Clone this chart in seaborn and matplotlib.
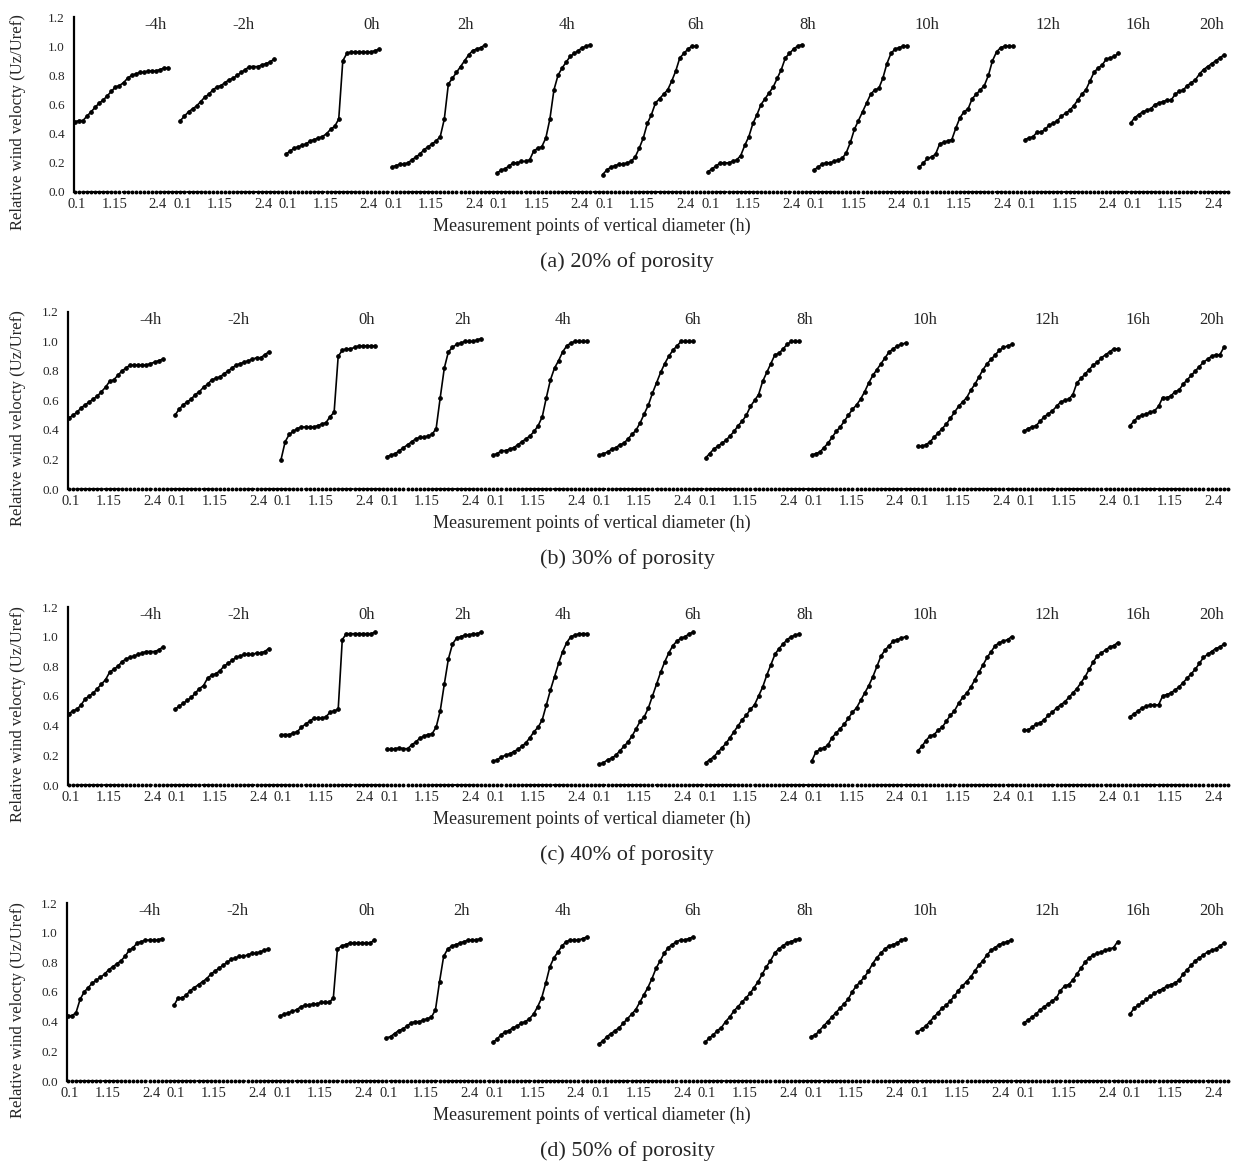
import numpy as np
import pandas as pd
import matplotlib
matplotlib.use('Agg')
import matplotlib.pyplot as plt
import seaborn as sns

# time after the front passes, one profile per time step
times = ['-4h', '-2h', '0h', '2h', '4h', '6h', '8h', '10h', '12h', '16h', '20h']
# measurement points along the vertical diameter (h)
heights = [0.1, 0.2, 0.3, 0.4, 0.5, 0.6, 0.7, 0.8, 0.9, 1.0, 1.1, 1.2,
           1.3, 1.4, 1.5, 1.6, 1.7, 1.8, 1.9, 2.0, 2.1, 2.2, 2.3, 2.4]
tick_text = ['0.1', '1.15', '2.4']
captions = ['(a) 20% of porosity', '(b) 30% of porosity',
            '(c) 40% of porosity', '(d) 50% of porosity']

# relative wind velocity Uz/Uref, one row per time step
p20 = [
    [0.48, 0.49, 0.49, 0.52, 0.55, 0.58, 0.61, 0.63, 0.66, 0.69, 0.72, 0.73, 0.75, 0.78, 0.80, 0.81, 0.82, 0.82, 0.83, 0.83, 0.83, 0.84, 0.85, 0.85],
    [0.49, 0.52, 0.55, 0.57, 0.59, 0.62, 0.65, 0.67, 0.70, 0.72, 0.73, 0.75, 0.77, 0.78, 0.80, 0.82, 0.84, 0.86, 0.86, 0.86, 0.87, 0.88, 0.89, 0.91],
    [0.26, 0.28, 0.30, 0.31, 0.32, 0.33, 0.35, 0.36, 0.37, 0.38, 0.40, 0.43, 0.45, 0.50, 0.90, 0.95, 0.96, 0.96, 0.96, 0.96, 0.96, 0.96, 0.97, 0.98],
    [0.17, 0.18, 0.19, 0.19, 0.20, 0.22, 0.24, 0.26, 0.29, 0.31, 0.33, 0.35, 0.38, 0.50, 0.74, 0.78, 0.82, 0.86, 0.90, 0.94, 0.97, 0.98, 0.99, 1.01],
    [0.13, 0.15, 0.16, 0.18, 0.20, 0.20, 0.21, 0.21, 0.22, 0.28, 0.30, 0.31, 0.37, 0.50, 0.70, 0.80, 0.85, 0.89, 0.93, 0.95, 0.97, 0.99, 1.00, 1.01],
    [0.12, 0.15, 0.17, 0.18, 0.19, 0.19, 0.20, 0.21, 0.24, 0.30, 0.37, 0.47, 0.53, 0.61, 0.64, 0.67, 0.70, 0.76, 0.83, 0.92, 0.95, 0.98, 1.00, 1.00],
    [0.14, 0.16, 0.18, 0.20, 0.20, 0.20, 0.21, 0.22, 0.25, 0.32, 0.38, 0.47, 0.53, 0.60, 0.64, 0.68, 0.72, 0.78, 0.84, 0.92, 0.95, 0.98, 1.00, 1.01],
    [0.15, 0.17, 0.19, 0.20, 0.20, 0.21, 0.22, 0.23, 0.27, 0.34, 0.43, 0.49, 0.55, 0.61, 0.67, 0.70, 0.71, 0.78, 0.88, 0.95, 0.98, 0.99, 1.00, 1.00],
    [0.17, 0.20, 0.23, 0.24, 0.26, 0.33, 0.34, 0.35, 0.36, 0.44, 0.51, 0.55, 0.57, 0.64, 0.67, 0.70, 0.73, 0.80, 0.90, 0.96, 0.99, 1.00, 1.00, 1.00],
    [0.36, 0.37, 0.38, 0.41, 0.41, 0.43, 0.46, 0.47, 0.49, 0.52, 0.54, 0.56, 0.59, 0.63, 0.67, 0.70, 0.76, 0.82, 0.85, 0.87, 0.91, 0.92, 0.93, 0.95],
    [0.47, 0.51, 0.53, 0.55, 0.56, 0.57, 0.60, 0.61, 0.62, 0.63, 0.63, 0.67, 0.69, 0.70, 0.73, 0.75, 0.77, 0.81, 0.84, 0.86, 0.88, 0.90, 0.92, 0.94],
]
p30 = [
    [0.48, 0.50, 0.52, 0.55, 0.57, 0.59, 0.61, 0.63, 0.66, 0.69, 0.73, 0.74, 0.77, 0.80, 0.82, 0.84, 0.84, 0.84, 0.84, 0.84, 0.85, 0.86, 0.87, 0.88],
    [0.50, 0.54, 0.57, 0.59, 0.61, 0.64, 0.66, 0.69, 0.71, 0.74, 0.75, 0.76, 0.78, 0.80, 0.82, 0.84, 0.85, 0.86, 0.87, 0.88, 0.89, 0.89, 0.91, 0.93],
    [0.20, 0.32, 0.37, 0.39, 0.41, 0.42, 0.42, 0.42, 0.42, 0.43, 0.44, 0.45, 0.49, 0.52, 0.90, 0.94, 0.95, 0.95, 0.96, 0.97, 0.97, 0.97, 0.97, 0.97],
    [0.22, 0.23, 0.24, 0.26, 0.28, 0.30, 0.32, 0.34, 0.35, 0.35, 0.36, 0.37, 0.41, 0.62, 0.82, 0.93, 0.96, 0.98, 0.99, 1.00, 1.00, 1.00, 1.01, 1.02],
    [0.23, 0.24, 0.26, 0.26, 0.27, 0.28, 0.30, 0.32, 0.34, 0.36, 0.39, 0.43, 0.49, 0.62, 0.74, 0.82, 0.87, 0.93, 0.97, 0.99, 1.00, 1.00, 1.00, 1.00],
    [0.23, 0.24, 0.25, 0.27, 0.28, 0.30, 0.31, 0.34, 0.37, 0.40, 0.45, 0.51, 0.57, 0.65, 0.72, 0.79, 0.85, 0.90, 0.94, 0.97, 1.00, 1.00, 1.00, 1.00],
    [0.21, 0.24, 0.27, 0.29, 0.31, 0.33, 0.36, 0.39, 0.43, 0.46, 0.50, 0.56, 0.60, 0.64, 0.73, 0.79, 0.85, 0.91, 0.92, 0.95, 0.98, 1.00, 1.00, 1.00],
    [0.23, 0.24, 0.25, 0.28, 0.31, 0.35, 0.39, 0.42, 0.46, 0.50, 0.54, 0.57, 0.61, 0.66, 0.72, 0.77, 0.81, 0.85, 0.89, 0.93, 0.95, 0.97, 0.98, 0.99],
    [0.29, 0.29, 0.30, 0.32, 0.35, 0.38, 0.41, 0.44, 0.48, 0.52, 0.56, 0.59, 0.62, 0.67, 0.71, 0.76, 0.81, 0.85, 0.88, 0.91, 0.94, 0.96, 0.97, 0.98],
    [0.39, 0.41, 0.42, 0.43, 0.46, 0.49, 0.51, 0.53, 0.56, 0.59, 0.60, 0.61, 0.64, 0.72, 0.75, 0.78, 0.81, 0.84, 0.86, 0.89, 0.91, 0.93, 0.95, 0.95],
    [0.43, 0.46, 0.49, 0.50, 0.51, 0.52, 0.53, 0.56, 0.62, 0.62, 0.63, 0.66, 0.67, 0.71, 0.74, 0.77, 0.80, 0.83, 0.86, 0.88, 0.90, 0.91, 0.91, 0.96],
]
p40 = [
    [0.48, 0.50, 0.51, 0.54, 0.58, 0.60, 0.62, 0.65, 0.68, 0.71, 0.76, 0.78, 0.80, 0.83, 0.85, 0.86, 0.87, 0.88, 0.89, 0.90, 0.90, 0.90, 0.91, 0.93],
    [0.51, 0.53, 0.55, 0.57, 0.59, 0.62, 0.65, 0.67, 0.72, 0.74, 0.75, 0.77, 0.80, 0.82, 0.84, 0.86, 0.87, 0.88, 0.88, 0.88, 0.89, 0.89, 0.90, 0.92],
    [0.34, 0.34, 0.34, 0.35, 0.36, 0.39, 0.41, 0.43, 0.45, 0.45, 0.45, 0.46, 0.49, 0.50, 0.51, 0.98, 1.02, 1.02, 1.02, 1.02, 1.02, 1.02, 1.02, 1.03],
    [0.24, 0.24, 0.245, 0.25, 0.245, 0.245, 0.27, 0.29, 0.315, 0.33, 0.34, 0.345, 0.39, 0.50, 0.68, 0.85, 0.95, 0.99, 1.00, 1.01, 1.01, 1.02, 1.02, 1.03],
    [0.16, 0.17, 0.19, 0.20, 0.21, 0.225, 0.24, 0.26, 0.285, 0.32, 0.36, 0.39, 0.44, 0.54, 0.64, 0.73, 0.82, 0.90, 0.96, 1.00, 1.01, 1.02, 1.02, 1.02],
    [0.14, 0.15, 0.17, 0.18, 0.20, 0.23, 0.26, 0.29, 0.33, 0.38, 0.43, 0.46, 0.52, 0.60, 0.68, 0.76, 0.83, 0.89, 0.94, 0.97, 0.99, 1.00, 1.02, 1.03],
    [0.15, 0.17, 0.19, 0.22, 0.25, 0.28, 0.32, 0.36, 0.40, 0.44, 0.47, 0.51, 0.54, 0.60, 0.66, 0.74, 0.81, 0.88, 0.92, 0.95, 0.98, 1.00, 1.01, 1.02],
    [0.16, 0.22, 0.24, 0.25, 0.27, 0.32, 0.35, 0.38, 0.41, 0.45, 0.49, 0.52, 0.57, 0.62, 0.67, 0.73, 0.80, 0.87, 0.91, 0.94, 0.97, 0.98, 0.99, 1.00],
    [0.23, 0.26, 0.30, 0.33, 0.34, 0.37, 0.39, 0.43, 0.47, 0.50, 0.55, 0.59, 0.62, 0.66, 0.71, 0.76, 0.81, 0.86, 0.90, 0.94, 0.96, 0.97, 0.98, 1.00],
    [0.37, 0.37, 0.39, 0.41, 0.42, 0.44, 0.47, 0.49, 0.52, 0.54, 0.56, 0.59, 0.62, 0.65, 0.69, 0.73, 0.78, 0.83, 0.87, 0.89, 0.91, 0.93, 0.94, 0.96],
    [0.46, 0.48, 0.50, 0.52, 0.53, 0.54, 0.54, 0.54, 0.60, 0.61, 0.62, 0.64, 0.66, 0.69, 0.72, 0.75, 0.78, 0.82, 0.86, 0.88, 0.90, 0.92, 0.93, 0.95],
]
p50 = [
    [0.44, 0.44, 0.46, 0.55, 0.60, 0.63, 0.66, 0.68, 0.70, 0.72, 0.75, 0.77, 0.79, 0.81, 0.84, 0.88, 0.90, 0.93, 0.94, 0.95, 0.95, 0.95, 0.95, 0.96],
    [0.51, 0.56, 0.56, 0.58, 0.61, 0.63, 0.65, 0.67, 0.69, 0.72, 0.74, 0.76, 0.78, 0.80, 0.82, 0.83, 0.84, 0.84, 0.85, 0.86, 0.86, 0.87, 0.88, 0.89],
    [0.44, 0.45, 0.46, 0.47, 0.48, 0.50, 0.51, 0.51, 0.52, 0.52, 0.53, 0.53, 0.53, 0.56, 0.89, 0.91, 0.92, 0.93, 0.93, 0.93, 0.93, 0.93, 0.93, 0.95],
    [0.29, 0.30, 0.32, 0.34, 0.35, 0.37, 0.39, 0.40, 0.40, 0.41, 0.42, 0.43, 0.48, 0.67, 0.84, 0.89, 0.91, 0.92, 0.93, 0.94, 0.95, 0.95, 0.95, 0.96],
    [0.26, 0.28, 0.31, 0.33, 0.34, 0.36, 0.37, 0.39, 0.40, 0.42, 0.45, 0.50, 0.56, 0.66, 0.77, 0.83, 0.87, 0.91, 0.94, 0.95, 0.95, 0.95, 0.96, 0.97],
    [0.25, 0.27, 0.30, 0.32, 0.34, 0.36, 0.39, 0.42, 0.45, 0.48, 0.53, 0.58, 0.63, 0.69, 0.76, 0.81, 0.86, 0.90, 0.92, 0.94, 0.95, 0.95, 0.96, 0.97],
    [0.26, 0.29, 0.31, 0.34, 0.36, 0.40, 0.43, 0.47, 0.50, 0.53, 0.56, 0.59, 0.63, 0.67, 0.72, 0.77, 0.81, 0.86, 0.89, 0.91, 0.93, 0.94, 0.95, 0.96],
    [0.30, 0.31, 0.34, 0.37, 0.40, 0.43, 0.46, 0.49, 0.52, 0.55, 0.60, 0.64, 0.67, 0.70, 0.74, 0.79, 0.83, 0.86, 0.89, 0.91, 0.92, 0.93, 0.95, 0.96],
    [0.33, 0.35, 0.37, 0.40, 0.43, 0.46, 0.49, 0.51, 0.54, 0.57, 0.61, 0.64, 0.67, 0.70, 0.74, 0.78, 0.81, 0.85, 0.88, 0.90, 0.92, 0.93, 0.94, 0.95],
    [0.39, 0.41, 0.43, 0.45, 0.48, 0.50, 0.52, 0.54, 0.56, 0.61, 0.64, 0.65, 0.68, 0.72, 0.76, 0.80, 0.83, 0.85, 0.86, 0.87, 0.88, 0.89, 0.90, 0.94],
    [0.45, 0.49, 0.51, 0.53, 0.55, 0.57, 0.59, 0.61, 0.62, 0.64, 0.65, 0.66, 0.68, 0.72, 0.75, 0.78, 0.81, 0.83, 0.85, 0.87, 0.88, 0.89, 0.91, 0.93],
]

sns.set_style('white')
plt.rcParams['font.family'] = ['Liberation Serif', 'DejaVu Serif']

W, H = 1236, 1165
fig = plt.figure(figsize=(W / 100, H / 100), dpi=100)

# panel geometry in pixels: left spine, top (1.2) and bottom (0.0)
panel_px = [(74, 17, 192), (68, 312, 489), (68, 607, 785), (67, 903, 1081)]
right_px = 1230
slot = 26                      # categories per profile incl. the gap
tick_off = [0.5, 9.7, 20.4]    # where Excel put the three labels
label_fx = [0.0706, 0.1463, 0.2573, 0.3391, 0.4260, 0.5379,
            0.6343, 0.7375, 0.8425, 0.9208, 0.9845]

rows = []
for p, data in enumerate([p20, p30, p40, p50]):
    for g, (t, vals) in enumerate(zip(times, data)):
        for i, (h, v) in enumerate(zip(heights, vals)):
            rows.append({'panel': p, 'time': t, 'height': h,
                         'x': g * slot + i, 'value': v})
df = pd.DataFrame(rows)
n_cat = (len(times) - 1) * slot + len(heights)

for p, (left, top, bottom) in enumerate(panel_px):
    ax = fig.add_axes([left / W, 1 - bottom / H, (right_px - left) / W, (bottom - top) / H])
    sub = df[df['panel'] == p]
    sns.lineplot(data=sub, x='x', y='value', units='time', estimator=None,
                 color='black', lw=1.2, marker='o', markersize=2.6,
                 markeredgecolor='black', ax=ax, legend=False)

    # dotted category axis drawn as a row of small markers on zero
    base_x = np.arange(n_cat + 1)
    ax.plot(base_x, np.zeros_like(base_x, dtype=float), color='black', lw=1.4,
            ls=(0, (1.2, 1.0)), marker='o', markersize=1.8, clip_on=False)

    ax.set_xlim(-0.2, n_cat + 0.5)
    ax.set_ylim(0, 1.2)
    ax.set_yticks(np.arange(0, 1.21, 0.2))
    ax.set_yticklabels([f'{v:.1f}' for v in np.arange(0, 1.21, 0.2)], fontsize=9.5)
    ax.set_xticks([g * slot + o for g in range(len(times)) for o in tick_off])
    ax.set_xticklabels(tick_text * len(times), fontsize=10.5)
    ax.tick_params(axis='x', length=0, pad=4)
    ax.tick_params(axis='y', length=3, width=1.5, direction='inout', pad=5)
    ax.set_xlabel('')
    ax.set_ylabel('')
    for s in ['top', 'right', 'bottom']:
        ax.spines[s].set_visible(False)
    ax.spines['left'].set_linewidth(1.6)
    ax.spines['left'].set_color('black')

    for fx, t in zip(label_fx, times):
        ax.text(fx, 0.955, t, transform=ax.transAxes, ha='center', va='center', fontsize=12)

    fig.text(18 / W, 1 - ((top + bottom) / 2 + 18) / H, 'Relative wind velocty (Uz/Uref)',
             rotation=90, ha='center', va='center', fontsize=12)
    fig.text(592 / W, 1 - (bottom + 34) / H, 'Measurement points of vertical diameter (h)',
             ha='center', va='center', fontsize=13)
    fig.text(627 / W, 1 - (bottom + 70) / H, captions[p],
             ha='center', va='center', fontsize=16)

fig.savefig('out.png', dpi=100)
